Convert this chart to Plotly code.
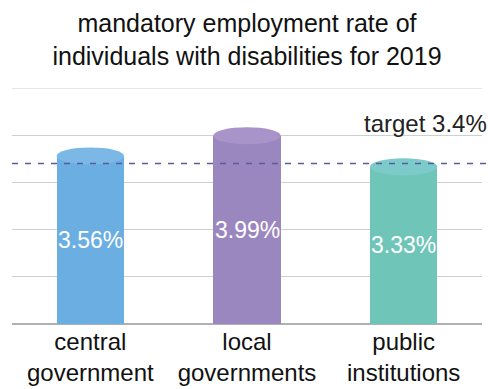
import plotly.graph_objects as go

# Employment rates of individuals with disabilities (2019), percent
categories = ["central<br>government", "local<br>governments", "public<br>institutions"]
rates = [3.56, 3.99, 3.33]
rate_labels = ["3.56%", "3.99%", "3.33%"]
target_rate = 3.4
target_label = "target 3.4%"

body_colors = ["#6aaee2", "#9b87bf", "#70c5b9"]
cap_colors = ["#7cb8e6", "#a994ca", "#7ccbca"]

FONT = "Liberation Sans, Arial, sans-serif"
bar_width = 0.43
cap_half_height = 0.18  # in y units
y_max = 5

x_pos = list(range(len(categories)))

fig = go.Figure()
fig.add_trace(go.Bar(
    x=x_pos, y=rates, width=bar_width,
    marker=dict(color=body_colors, line=dict(width=0)),
    hoverinfo="skip", showlegend=False,
))

shapes = []
# top gridline at the edge of the range
shapes.append(dict(
    type="line", xref="paper", yref="y", layer="below",
    x0=0, x1=1, y0=y_max, y1=y_max,
    line=dict(color="#cfcfcf", width=1),
))
# elliptical tops that turn each bar into a cylinder
for i, (v, c) in enumerate(zip(rates, cap_colors)):
    shapes.append(dict(
        type="circle", xref="x", yref="y", layer="above",
        x0=i - bar_width / 2, x1=i + bar_width / 2,
        y0=v - cap_half_height, y1=v + cap_half_height,
        fillcolor=c, line=dict(width=0),
    ))
# target line
shapes.append(dict(
    type="line", xref="paper", yref="y", layer="above",
    x0=0, x1=1.013, y0=target_rate, y1=target_rate,
    line=dict(color="#5b5ca0", width=1.6, dash="6px,7px"),
))

annotations = []
for i, (v, t) in enumerate(zip(rates, rate_labels)):
    annotations.append(dict(
        x=i, y=v / 2, xref="x", yref="y", text=t, showarrow=False,
        font=dict(family=FONT, size=23, color="white"),
    ))
annotations.append(dict(
    x=1.015, y=target_rate + 0.85, xref="paper", yref="y", text=target_label,
    showarrow=False, xanchor="right", yanchor="middle",
    font=dict(family=FONT, size=24, color="#222222"),
))

fig.update_layout(
    width=488, height=389,
    margin=dict(l=12, r=6, t=88, b=65),
    paper_bgcolor="white", plot_bgcolor="white",
    title=dict(
        text="mandatory employment rate of<br>individuals with disabilities for 2019",
        x=0.5, xanchor="center", xref="paper",
        y=1 - 32 / 389, yanchor="middle", yref="container",
        font=dict(family=FONT, size=25, color="#111111"),
    ),
    xaxis=dict(
        range=[-0.5, 2.5], tickmode="array", tickvals=x_pos, ticktext=categories,
        showgrid=False, zeroline=False, showline=False, ticks="",
        tickfont=dict(family=FONT, size=24, color="#111111"),
        ticklabelstandoff=1, automargin=False,
    ),
    yaxis=dict(
        range=[0, y_max], dtick=1, showgrid=True, gridcolor="#cfcfcf", gridwidth=1,
        zeroline=True, zerolinecolor="#b0b0b0", zerolinewidth=1.5,
        showticklabels=False, ticks="", automargin=False,
    ),
    shapes=shapes,
    annotations=annotations,
    bargap=0,
)

fig.write_html("out.html")
